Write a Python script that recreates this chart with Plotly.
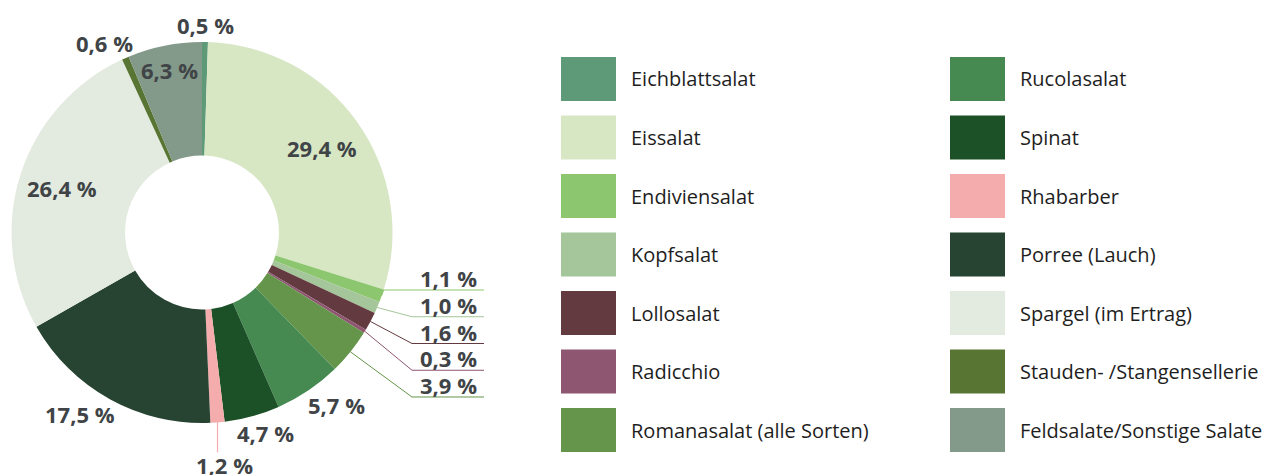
import math
import plotly.graph_objects as go

# ---------------- data ----------------
categories = [
    "Eichblattsalat", "Eissalat", "Endiviensalat", "Kopfsalat", "Lollosalat",
    "Radicchio", "Romanasalat (alle Sorten)", "Rucolasalat", "Spinat", "Rhabarber",
    "Porree (Lauch)", "Spargel (im Ertrag)", "Stauden- /Stangensellerie",
    "Feldsalate/Sonstige Salate",
]
shares = [0.5, 29.4, 1.1, 1.0, 1.6, 0.3, 3.9, 5.7, 4.7, 1.2, 17.5, 26.4, 0.6, 6.3]

# ---------------- style ----------------
colors = [
    "#5e9a78", "#d7e6c3", "#8cc66e", "#a4c69a", "#633a40",
    "#8f5672", "#64954a", "#468a52", "#1c5128", "#f4acac",
    "#274433", "#e3eadf", "#587533", "#83998a",
]
# how each value label is placed
label_mode = ["out", "in", "lead", "lead", "lead", "lead", "lead",
              "out", "out", "drop", "out", "in", "out", "in"]
inside_radius = {"Eissalat": 0.77, "Spargel (im Ertrag)": 0.77,
                 "Feldsalate/Sonstige Salate": 0.87}

W, H = 1263, 475
CX, CY, R = 202.0, 232.5, 190.5
HOLE = 0.404
LABEL_FONT = dict(family="Open Sans", size=22, color="#404447")
LEGEND_FONT = dict(family="Open Sans", size=20, color="#1e1e1e")

LEADER_Y0, LEADER_STEP = 290.0, 26.75
ELBOW_X, LINE_END_X, LEAD_TEXT_X = 412.0, 484.0, 479.0


def px(x):
    return x / W


def py(y):
    return 1 - y / H


def fmt(v):
    return f"{v:.1f}".replace(".", ",") + " %"


def text_width(s):
    w = 0
    for ch in s:
        if ch.isdigit():
            w += 12.6
        elif ch == ",":
            w += 6.4
        elif ch == " ":
            w += 5.7
        elif ch == "%":
            w += 19.0
    return w


fig = go.Figure()
fig.add_trace(go.Pie(
    labels=categories, values=shares,
    marker=dict(colors=colors, line=dict(width=0)),
    hole=HOLE, sort=False, direction="clockwise", rotation=0,
    textinfo="none", hoverinfo="skip", showlegend=False,
    domain=dict(x=[px(CX - R), px(CX + R)], y=[py(CY + R), py(CY - R)]),
))

total = sum(shares)
annotations = []
shapes = []
cum = 0.0
lead_i = 0
for cat, v, col, mode in zip(categories, shares, colors, label_mode):
    mid = 2 * math.pi * (cum + v / 2) / total
    cum += v
    s, c = math.sin(mid), math.cos(mid)
    txt = fmt(v)
    if mode == "in":
        r = inside_radius[cat] * R
        x, y = CX + r * s, CY - r * c
        annotations.append(dict(x=px(x), y=py(y), text="<b>%s</b>" % txt, showarrow=False,
                                xanchor="center", yanchor="middle", font=LABEL_FONT))
    elif mode == "out":
        r = R + 6
        w = text_width(txt)
        x = CX + r * s + (w / 2) * max(-1.0, min(1.0, 1.6 * s))
        y = CY - r * c - c * 11
        annotations.append(dict(x=px(x), y=py(y), text="<b>%s</b>" % txt, showarrow=False,
                                xanchor="center", yanchor="middle", font=LABEL_FONT))
    elif mode == "lead":
        x0, y0 = CX + R * s, CY - R * c
        ly = LEADER_Y0 + lead_i * LEADER_STEP
        lead_i += 1
        ex = ELBOW_X if lead_i > 1 else x0 + 2
        shapes.append(dict(type="path", xref="paper", yref="paper",
                           path="M %f,%f L %f,%f L %f,%f" % (px(x0), py(y0), px(ex), py(ly),
                                                             px(LINE_END_X), py(ly)),
                           line=dict(color=col, width=1)))
        annotations.append(dict(x=px(LEAD_TEXT_X), y=py(ly - 12), text="<b>%s</b>" % txt,
                                showarrow=False, xanchor="right", yanchor="middle",
                                height=24, font=LABEL_FONT))
    elif mode == "drop":
        x0, y0 = CX + R * s, CY - R * c
        y1 = y0 + 30
        shapes.append(dict(type="line", xref="paper", yref="paper",
                           x0=px(x0), y0=py(y0), x1=px(x0), y1=py(y1),
                           line=dict(color=col, width=1.2)))
        annotations.append(dict(x=px(x0 + 7), y=py(y1 + 13), text="<b>%s</b>" % txt,
                                showarrow=False, xanchor="center", yanchor="middle",
                                font=LABEL_FONT))

# ---------------- manual legend (two columns) ----------------
SW_X = [561, 950]
TXT_X = [629, 1018]
ROW_Y0, ROW_STEP = 79.0, 58.5
SW_W, SW_H = 55, 44
per_col = 7
for i, (cat, col) in enumerate(zip(categories, colors)):
    ci, ri = divmod(i, per_col)
    yc = ROW_Y0 + ri * ROW_STEP
    shapes.append(dict(type="rect", xref="paper", yref="paper",
                       x0=px(SW_X[ci]), x1=px(SW_X[ci] + SW_W),
                       y0=py(yc + SW_H / 2), y1=py(yc - SW_H / 2),
                       fillcolor=col, line=dict(width=0)))
    annotations.append(dict(x=px(TXT_X[ci]), y=py(yc), text=cat, showarrow=False,
                            xanchor="left", yanchor="middle", font=LEGEND_FONT))

fig.update_layout(
    width=W, height=H, margin=dict(l=0, r=0, t=0, b=0),
    paper_bgcolor="white", plot_bgcolor="white",
    annotations=annotations, shapes=shapes, showlegend=False,
)
fig.write_html("out.html")
